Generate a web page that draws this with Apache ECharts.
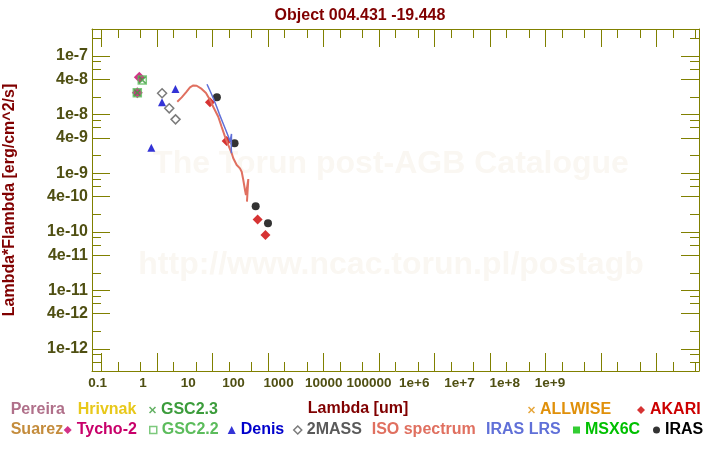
<!DOCTYPE html>
<html><head><meta charset="utf-8">
<script src="https://cdn.jsdelivr.net/npm/echarts@6/dist/echarts.min.js"></script>
<style>html,body{margin:0;padding:0;background:#fff}#c{width:720px;height:450px}</style>
</head><body><div id="c"></div>
<script>
// ---------- texts ----------
const titleText = 'Object 004.431 -19.448';
const xName = 'Lambda [um]';
const yName = 'Lambda*Flambda [erg/cm^2/s]';
const watermark1 = 'The Torun post-AGB Catalogue';
const watermark2 = 'http://www.ncac.torun.pl/postagb';

// ---------- tick labels ----------
const xTickLabels = ['0.1','1','10','100','1000','10000','100000','1e+6','1e+7','1e+8','1e+9'];
const yTickValues = [1e-7,4e-8,1e-8,4e-9,1e-9,4e-10,1e-10,4e-11,1e-11,4e-12,1e-12];
const yTickLabels = ['1e-7','4e-8','1e-8','4e-9','1e-9','4e-10','1e-10','4e-11','1e-11','4e-12','1e-12'];
const xMajorTicks = [0.1,1,10,100,1e3,1e4,1e5,1e6,1e7,1e8,1e9];
const xMinorTicks = [0.2,0.5,2,5,20,50,200,500,2e3,5e3,2e4,5e4,2e5,5e5,2e6,5e6,2e7,5e7,2e8,5e8,2e9,5e9];
const yMinorTicks = [2e-7,8e-8,6e-8,2e-8,8e-9,6e-9,2e-9,8e-10,6e-10,2e-10,8e-11,6e-11,2e-11,8e-12,6e-12,2e-12,8e-13,6e-13];

// ---------- data [lambda (um), lambda*F_lambda (erg/cm^2/s)] ----------
const pereira = [];
const hrivnak = [];
const gsc23 = [[0.442,2.37e-8],[0.543,3.89e-8]];
const suarez = [];
const tycho2 = [[0.442,2.37e-8],[0.48,4.34e-8]];
const gsc22 = [[0.442,2.37e-8],[0.543,3.89e-8]];
const denis = [[0.79,2.72e-9],[1.23,1.62e-8],[2.15,2.74e-8]];
const twomass = [[1.235,2.31e-8],[1.662,1.28e-8],[2.159,8.3e-9]];
const isoSpectrum = [[2.32,1.66e-8],[2.79,1.97e-8],[3.33,2.40e-8],[3.93,2.92e-8],[4.51,3.14e-8],[5.19,3.11e-8],
  [6.39,2.74e-8],[7.64,2.34e-8],[9.02,1.78e-8],[10.3,1.36e-8],[12.7,9.2e-9],[14.6,6.22e-9],[16.8,4.2e-9],
  [19.3,3.03e-9],[22.2,2.19e-9],[23.7,1.80e-9],[27.3,1.38e-9],[31.3,1.21e-9],[33.6,1.06e-9],[35.9,7.66e-10],
  [38.5,5.17e-10],[40.1,4.25e-10],[44.2,7.96e-10],[41.8,3.27e-10]];
const irasLrs = [[7.96,3.30e-8],[9.02,2.55e-8],[10.34,1.90e-8],[11.9,1.36e-8],[13.3,1.02e-8],[15.3,7.33e-9],
  [17.5,5.36e-9],[19.3,4.23e-9],[20.7,3.47e-9],[22.0,4.67e-9],[21.8,2.66e-9],[22.0,2.19e-9]];
const allwise = [];
const akari = [[9,1.62e-8],[18,3.55e-9],[65,1.63e-10],[90,8.8e-11]];
const msx6c = [];
const iras = [[12,1.97e-8],[25,3.24e-9],[60,2.72e-10],[100,1.40e-10]];

// ---------- styling ----------
// axes run in decades (log10 of the values)
const L = Math.log10;
const X_MIN = -1.171, X_MAX = 9.766, Y_MIN = -12.375, Y_MAX = -6.539;
const AX = '#808000', LBL = '#4f4f12', DARKRED = '#800000';
const FONT = 'Liberation Sans, Arial, sans-serif';
const CROSS = 'path://M0,1.5L1.5,0L5,3.5L8.5,0L10,1.5L6.5,5L10,8.5L8.5,10L5,6.5L1.5,10L0,8.5L3.5,5Z';

const C = {
  'Pereira':'#b0708a','Hrivnak':'#e8c81a','GSC2.3':'#3c9c3c','Suarez':'#c48c3c','Tycho-2':'#c8006a',
  'GSC2.2':'#5cbc5c','Denis':'#0000cc','2MASS':'#5a5a5a','ISO spectrum':'#e07060','IRAS LRS':'#6070d8',
  'ALLWISE':'#e0900a','AKARI':'#cc0000','MSX6C':'#00c000','IRAS':'#000000'
};

function xAx(pos, ticks, len, line){
  return {type:'value', gridIndex:0, position:pos, min:X_MIN, max:X_MAX, scale:true,
    axisLine:{show:line, onZero:false, lineStyle:{color:AX, width:1}},
    axisTick:{show:true, inside:true, length:len, customValues:ticks.map(L), lineStyle:{color:AX, width:1}},
    axisLabel:{show:false}, splitLine:{show:false}, minorTick:{show:false}};
}
function yAx(pos, ticks, len, line, labels){
  const a = {type:'value', gridIndex:0, position:pos, min:Y_MIN, max:Y_MAX, scale:true,
    axisLine:{show:line, onZero:false, lineStyle:{color:AX, width:1}},
    axisTick:{show:true, inside:true, length:len, customValues:ticks.map(L), lineStyle:{color:AX, width:1}},
    axisLabel:{show:false}, splitLine:{show:false}, minorTick:{show:false}};
  if (labels) {
    a.axisLabel = {show:true, customValues:yTickValues.map(L), margin:4, color:LBL, fontSize:16, fontWeight:'bold', fontFamily:FONT,
      formatter:function(v){ let best=0, bd=1e9; yTickValues.forEach((t,i)=>{const d=Math.abs(v-L(t)); if(d<bd){bd=d;best=i;}}); return yTickLabels[best]; }};
    a.name = yName; a.nameLocation = 'middle'; a.nameGap = 74;
    a.nameTextStyle = {color:DARKRED, fontSize:16, fontWeight:'bold', fontFamily:FONT};
  }
  return a;
}

const seriesDefs = [
  ['Pereira', pereira, 'scatter', 'circle', 8, false],
  ['Hrivnak', hrivnak, 'scatter', 'circle', 8, false],
  ['Suarez', suarez, 'scatter', 'circle', 8, false],
  ['Tycho-2', tycho2, 'scatter', 'diamond', 11, false],
  ['GSC2.2', gsc22, 'scatter', 'rect', 8, true],
  ['GSC2.3', gsc23, 'scatter', CROSS, 8, false],
  ['Denis', denis, 'scatter', 'triangle', 8, false],
  ['2MASS', twomass, 'scatter', 'diamond', 9, true],
  ['ISO spectrum', isoSpectrum, 'line', null, 0, false],
  ['IRAS LRS', irasLrs, 'line', null, 0, false],
  ['ALLWISE', allwise, 'scatter', CROSS, 7, false],
  ['AKARI', akari, 'scatter', 'diamond', 10, false],
  ['MSX6C', msx6c, 'scatter', 'rect', 7, false],
  ['IRAS', iras, 'scatter', 'circle', 8, false]
];
const series = seriesDefs.map(([name,data,type,sym,size,hollow])=>{
  const d = data.map(p=>[L(p[0]), L(p[1])]);
  if (type==='line') return {name, type:'line', data:d, xAxisIndex:0, yAxisIndex:0, showSymbol:false, symbol:'none',
    lineStyle:{color:C[name], width: name==='ISO spectrum'?2:1.5}, itemStyle:{color:C[name]}, animation:false};
  return {name, type:'scatter', data:d, xAxisIndex:0, yAxisIndex:0, symbol:sym, symbolSize:size,
    itemStyle: hollow ? {color:'rgba(255,255,255,0)', borderColor:C[name], borderWidth:1.5} : {color:C[name]}, animation:false};
});

// legend layout: [name, text left x, row, icon, icon size, hollow]
const legendLayout = [
  ['Pereira',10.7,0,'none',0,false],['Hrivnak',77.7,0,'none',0,false],['GSC2.3',161,0,CROSS,7,false],
  ['ALLWISE',540,0,CROSS,7,false],['AKARI',650,0,'diamond',8,false],
  ['Suarez',10.7,1,'none',0,false],['Tycho-2',76.7,1,'diamond',8,false],['GSC2.2',161,1,'rect',7,true],
  ['Denis',240.7,1,'triangle',8,false],['2MASS',306,1,'diamond',8,true],['ISO spectrum',371.7,1,'none',0,false],
  ['IRAS LRS',486,1,'none',0,false],['MSX6C',585,1,'rect',7,false],['IRAS',665,1,'circle',7,false]
];
const legends = legendLayout.map(([name,tx,row,icon,sz,hollow])=>({
  show:true, orient:'horizontal', left: tx - 5 - sz, top: row===0 ? 402 : 422, padding:0,
  itemWidth: sz, itemHeight: Math.max(sz,1), selectedMode:false,
  textStyle:{fontSize:16, fontWeight:'bold', fontFamily:FONT, color:C[name]},
  data:[{name, icon, textStyle:{color:C[name]},
    itemStyle: hollow ? {color:'rgba(255,255,255,0)', borderColor:C[name], borderWidth:1.5} : {color:C[name], borderWidth:0}}]
}));

const option = {
  animation:false, backgroundColor:'#ffffff',
  textStyle:{fontFamily:FONT},
  title:{text:titleText, left:'center', top:3, textStyle:{color:DARKRED, fontSize:16, fontWeight:'bold', fontFamily:FONT}},
  graphic:[
    {type:'text', z:0, silent:true, style:{text:watermark1, x:391, y:164, align:'center', verticalAlign:'middle', font:'bold 32px Liberation Sans, Arial, sans-serif', fill:'#faf7f2'}},
    {type:'text', z:0, silent:true, style:{text:watermark2, x:391, y:265, align:'center', verticalAlign:'middle', font:'bold 32px Liberation Sans, Arial, sans-serif', fill:'#faf7f2'}}
  ],
  legend: legends,
  grid:[{left:92, top:29, width:607, height:342, containLabel:false, outerBoundsMode:'none'},
        {left:97.7, top:29, width:452.3, height:342, containLabel:false, outerBoundsMode:'none'}],
  xAxis:[
    Object.assign(xAx('bottom', xMajorTicks, 18, true), {name:xName, nameLocation:'middle', nameGap:30,
      nameTextStyle:{color:DARKRED, fontSize:16, fontWeight:'bold', fontFamily:FONT, padding:[0,75,0,0]}}),
    xAx('bottom', xMinorTicks, 9, false),
    xAx('top', xMajorTicks, 18, true),
    xAx('top', xMinorTicks, 9, false),
    {type:'category', gridIndex:1, position:'bottom', data:xTickLabels, boundaryGap:false,
      axisLine:{show:false}, axisTick:{show:false}, splitLine:{show:false},
      axisLabel:{show:true, interval:0, margin:5, color:LBL, fontSize:13.5, fontWeight:'bold', fontFamily:FONT}}
  ],
  yAxis:[
    yAx('left', yTickValues, 18, true, true),
    yAx('left', yMinorTicks, 9, false, false),
    yAx('right', yTickValues, 18, true, false),
    yAx('right', yMinorTicks, 9, false, false),
    {type:'value', gridIndex:1, show:false}
  ],
  series
};
const chart = echarts.init(document.getElementById('c'), null, {renderer:'canvas'});
chart.setOption(option);
</script></body></html>
